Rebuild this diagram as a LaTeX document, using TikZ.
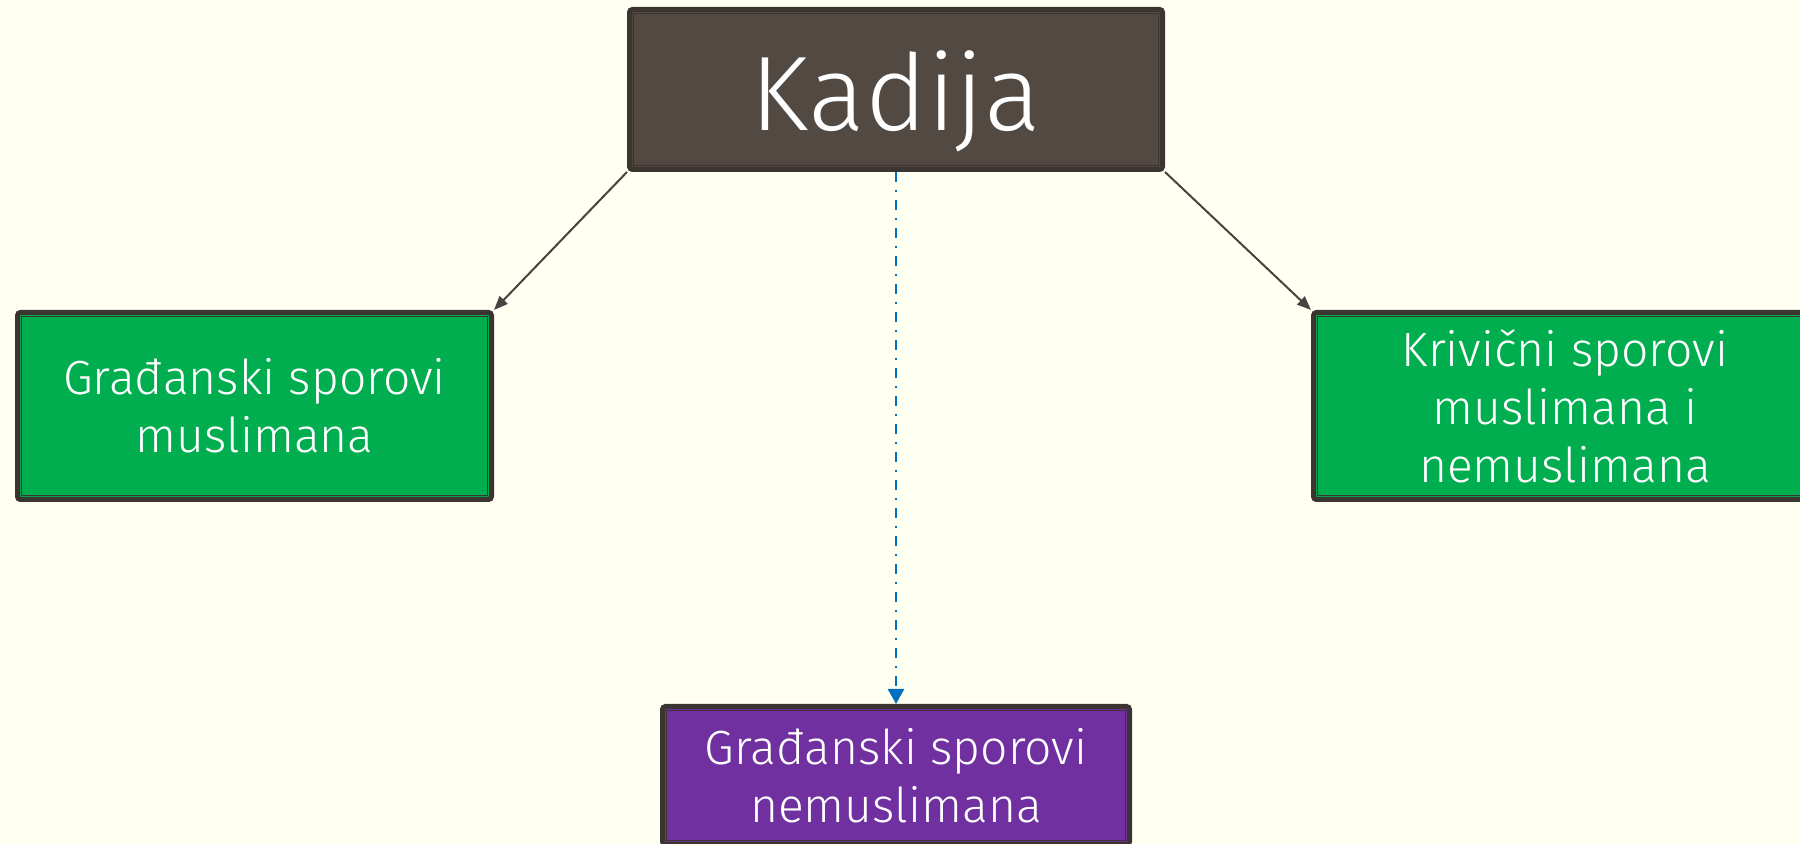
\documentclass[tikz,border=0pt]{standalone}
\usepackage{fontspec}
\setmainfont{Fira Sans Light}
\usetikzlibrary{arrows.meta}

\definecolor{paper}{HTML}{FFFFF2}
\definecolor{rim}{HTML}{3B3430}
\definecolor{judgefill}{HTML}{524943}
\definecolor{civilgreen}{HTML}{00AE50}
\definecolor{civilpurple}{HTML}{7030A0}
\definecolor{linkgray}{HTML}{4A4240}
\definecolor{linkblue}{HTML}{0070C0}

\begin{document}
\begin{tikzpicture}[x=0.5pt,y=0.5pt,
    box/.style={draw=rim, line width=2.5pt, rounded corners=1.5pt, text=white, align=center,
        inner sep=0pt, font=\fontsize{24}{29}\selectfont},
    innerline/.style={draw=rim, line width=0.65pt},
    link/.style={draw=linkgray, line width=1pt, -{Triangle[length=7pt,width=5.5pt]}},
    dashlink/.style={draw=linkblue, line width=1.3pt,
        dash pattern=on 5pt off 4pt on 1pt off 4pt, -{Triangle[length=7.5pt,width=8pt]}}]
    \fill[paper] (0,0) rectangle (1800,844);
    \useasboundingbox (0,0) rectangle (1800,844);
    % boxes
    \node[box, fill=judgefill, minimum width=266.5pt, minimum height=80pt,
        font=\fontsize{53}{60}\selectfont] (kadija) at (896,754.5) {\raisebox{-20.5pt}[0pt][0pt]{Kadija}};
    \node[box, fill=civilgreen, minimum width=237pt, minimum height=93.5pt] (gradmusl) at (254.5,438)
        {Građanski sporovi\\muslimana};
    \node[box, fill=civilgreen, minimum width=251.5pt, minimum height=93.5pt] (krivicni) at (1565,438)
        {Krivični sporovi\\muslimana i\\nemuslimana};
    \node[box, fill=civilpurple, minimum width=233.5pt, minimum height=69pt] (gradnemusl) at (896,68.5)
        {Građanski sporovi\\nemuslimana};
    \foreach \n in {kadija,gradmusl,krivicni,gradnemusl}
        \draw[innerline] ([shift={(3.2pt,-3.2pt)}]\n.north west) rectangle ([shift={(-3.2pt,3.2pt)}]\n.south east);
    % connectors
    \draw[link] (kadija.south west) -- (gradmusl.north east);
    \draw[link] (kadija.south east) -- (krivicni.north west);
    \draw[dashlink] (kadija.south) -- (gradnemusl.north);
\end{tikzpicture}
\end{document}
